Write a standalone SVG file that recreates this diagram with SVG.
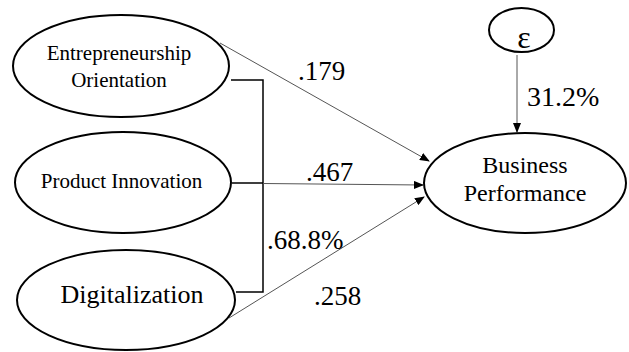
<svg xmlns="http://www.w3.org/2000/svg" width="629" height="352" viewBox="0 0 629 352">
<defs>
<marker id="ah" markerWidth="10" markerHeight="8" refX="9" refY="4" orient="auto" markerUnits="userSpaceOnUse">
<path d="M0,0 L10,4 L0,8 Z" fill="#000"/>
</marker>
</defs>
<rect width="629" height="352" fill="#fff"/>
<g id="connectors" fill="none">
<path stroke="#000" stroke-width="1.5" d="M231,80 H263 V292 H236 M232,183 H263"/>
<line stroke="#555" stroke-width="1" marker-end="url(#ah)" x1="220" y1="43" x2="429" y2="161"/>
<line stroke="#555" stroke-width="1" marker-end="url(#ah)" x1="263" y1="183.5" x2="423" y2="185"/>
<line stroke="#555" stroke-width="1" marker-end="url(#ah)" x1="229" y1="318" x2="424" y2="197"/>
<line stroke="#555" stroke-width="1" marker-end="url(#ah)" x1="517" y1="55" x2="517" y2="132"/>
</g>
<g id="labels">
<text x="298" y="80" font-size="27" font-family="Liberation Serif">.179</text>
<text x="306" y="181" font-size="27" font-family="Liberation Serif">.467</text>
<text x="267" y="249" font-size="27" font-family="Liberation Serif">.68.8%</text>
<text x="314" y="305" font-size="27" font-family="Liberation Serif">.258</text>
<text x="527" y="106" font-size="28" font-family="Liberation Serif">31.2%</text>
</g>
<g id="eo">
<ellipse fill="#fff" stroke="#000" stroke-width="2" cx="121" cy="66" rx="108" ry="51"/>
<text x="119" y="60" font-size="21" font-family="Liberation Serif" text-anchor="middle">Entrepreneurship</text>
<text x="119" y="87" font-size="21" font-family="Liberation Serif" text-anchor="middle">Orientation</text>
</g>
<g id="pi">
<ellipse fill="#fff" stroke="#000" stroke-width="2" cx="123" cy="182.5" rx="108" ry="50.5"/>
<text x="121.5" y="188" font-size="21" font-family="Liberation Serif" text-anchor="middle">Product Innovation</text>
</g>
<g id="dg">
<ellipse fill="#fff" stroke="#000" stroke-width="2" cx="126" cy="300" rx="109" ry="50"/>
<text x="132" y="303" font-size="26" font-family="Liberation Serif" text-anchor="middle">Digitalization</text>
</g>
<g id="bp">
<ellipse fill="#fff" stroke="#000" stroke-width="2" cx="525" cy="183" rx="101" ry="50"/>
<text x="525" y="173" font-size="24" font-family="Liberation Serif" text-anchor="middle">Business</text>
<text x="525" y="201" font-size="24" font-family="Liberation Serif" text-anchor="middle">Performance</text>
</g>
<g id="eps">
<ellipse fill="#fff" stroke="#000" stroke-width="2" cx="521.5" cy="30" rx="32.5" ry="22"/>
<text x="524" y="48" font-size="32" font-family="Liberation Serif" text-anchor="middle">&#949;</text>
</g>
</svg>
